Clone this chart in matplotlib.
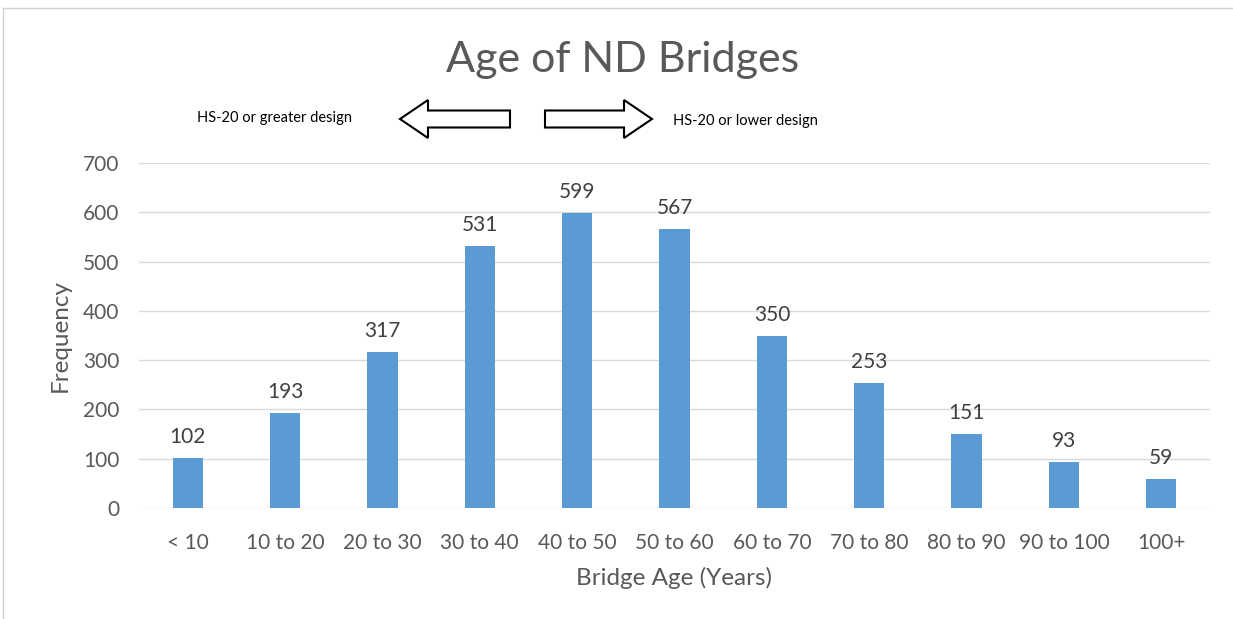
import matplotlib.pyplot as plt
from matplotlib.patches import FancyArrow
from matplotlib.lines import Line2D

categories = ["< 10", "10 to 20", "20 to 30", "30 to 40", "40 to 50", "50 to 60",
              "60 to 70", "70 to 80", "80 to 90", "90 to 100", "100+"]
counts = [102, 193, 317, 531, 599, 567, 350, 253, 151, 93, 59]
y_ticks = [0, 100, 200, 300, 400, 500, 600, 700]

plt.rcParams["font.family"] = ["Lato", "DejaVu Sans"]
text_color = "#595959"

W, H = 1233, 619
fig = plt.figure(figsize=(W / 100, H / 100), dpi=100)
ax = fig.add_axes([139 / W, 1 - 508 / H, (1210 - 139) / W, (508 - 163) / H])

x = range(len(categories))
ax.bar(x, counts, width=0.31, color="#5B9BD5", zorder=3)
for xi, v in zip(x, counts):
    ax.text(xi, v + 22, str(v), ha="center", va="bottom", fontsize=15, color="#404040")

ax.set_xlim(-0.5, len(categories) - 0.5)
ax.set_ylim(0, 700)
ax.set_yticks(y_ticks)
ax.set_xticks(list(x))
ax.set_xticklabels(categories)
ax.tick_params(axis="both", length=0, labelsize=15, colors=text_color)
ax.tick_params(axis="x", pad=18)
ax.tick_params(axis="y", pad=14)
ax.grid(axis="y", color="#D9D9D9", linewidth=1, zorder=0)
for s in ax.spines.values():
    s.set_visible(False)

ax.set_xlabel("Bridge Age (Years)", fontsize=17.5, color=text_color, labelpad=10)
ax.set_ylabel("Frequency", fontsize=17.5, color=text_color)
ax.yaxis.set_label_coords((71 - 139) / (1210 - 139), 0.5)

fig.text(623 / W, 1 - 60 / H, "Age of ND Bridges", ha="center", va="center",
         fontsize=31, color=text_color)

# annotations with block arrows
fig.text(197 / W, 1 - 118 / H, "HS-20 or greater design", ha="left", va="center",
         fontsize=10.5, color="black")
fig.text(673 / W, 1 - 121 / H, "HS-20 or lower design", ha="left", va="center",
         fontsize=10.5, color="black")


def px(xp, yp):
    return xp / W, 1 - yp / H


def block_arrow(x_from, x_to, y):
    x0, y0 = px(x_from, y)
    x1, _ = px(x_to, y)
    fig.patches.append(FancyArrow(x0, y0, x1 - x0, 0, width=17 / H, head_width=38 / H,
                                  head_length=28 / W, length_includes_head=True,
                                  facecolor="white", edgecolor="black", linewidth=1.5,
                                  transform=fig.transFigure, figure=fig))


block_arrow(510, 400, 119)
block_arrow(545, 652, 119)

# light frame at top and left
fig.add_artist(Line2D([3 / W, 1], [1 - 8 / H, 1 - 8 / H], color="#D0D0D0", linewidth=1))
fig.add_artist(Line2D([3 / W, 3 / W], [0, 1 - 8 / H], color="#D0D0D0", linewidth=1))

fig.savefig("out.png", dpi=100)
